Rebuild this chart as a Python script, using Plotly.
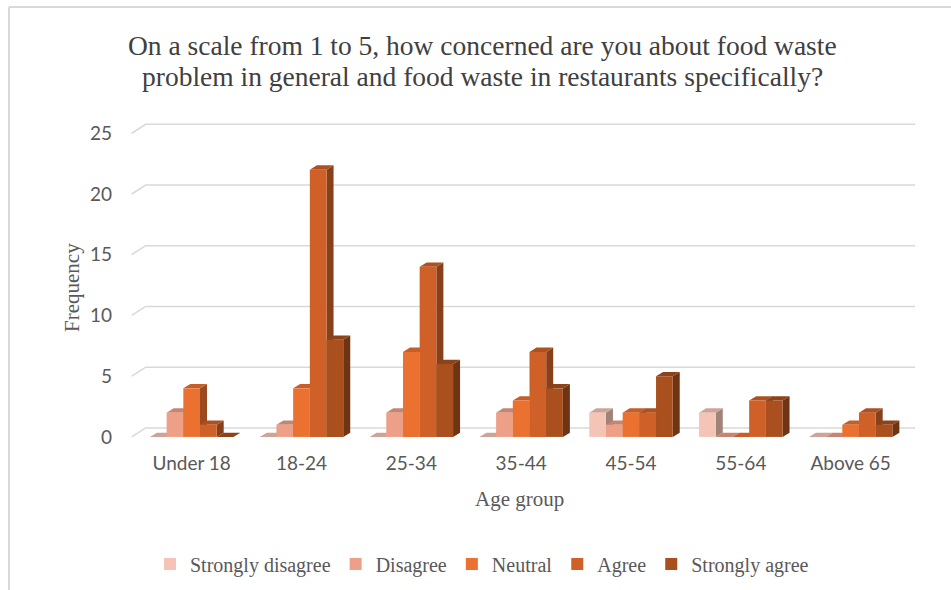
import plotly.graph_objects as go

# ---- data ----
age_groups = ["Under 18", "18-24", "25-34", "35-44", "45-54", "55-64", "Above 65"]
responses = ["Strongly disagree", "Disagree", "Neutral", "Agree", "Strongly agree"]
strongly_disagree = [0, 0, 0, 0, 2, 2, 0]
disagree = [2, 1, 2, 2, 1, 0, 0]
neutral = [4, 4, 7, 3, 2, 0, 1]
agree = [1, 22, 14, 7, 2, 3, 2]
strongly_agree = [0, 8, 6, 4, 5, 3, 1]
y_ticks = [0, 5, 10, 15, 20, 25]
title_lines = ["On a scale from 1 to 5, how concerned are you about food waste",
               "problem in general and food waste in restaurants specifically?"]

series = [strongly_disagree, disagree, neutral, agree, strongly_agree]
colors = ["#F4C5B6", "#EE9F87", "#EB7131", "#CF6128", "#A9501E"]

# ---- geometry of the pseudo-3D columns ----
W, H = 951, 590
M_L, M_R, M_T, M_B = 125, 26, 115, 147
X_RANGE = [-0.607, 6.677]
Y_RANGE = [-0.5, 26.5]
px_per_x = (W - M_L - M_R) / (X_RANGE[1] - X_RANGE[0])
px_per_y = (H - M_T - M_B) / (Y_RANGE[1] - Y_RANGE[0])

BAR_W = 0.152                 # width of one column (category units)
GROUP_START = -2.5 * BAR_W    # offset of the first column in each group
DX = 7 / px_per_x             # depth of a column, horizontal part
DY = 4.3 / px_per_y           # depth of a column, vertical part
WALL_DX = 14 / px_per_x       # depth of the back wall
WALL_DY = 9 / px_per_y


def shade(hex_color, k):
    h = hex_color.lstrip("#")
    r, g, b = (int(h[i:i + 2], 16) for i in (0, 2, 4))
    return "rgb({},{},{})".format(int(r * k), int(g * k), int(b * k))


def poly(pts):
    return "M " + " L ".join("{:.5f},{:.5f}".format(x, y) for x, y in pts) + " Z"


shapes = []

# gridlines on the side wall and back wall
grid_x0 = X_RANGE[0] + 6.7 / px_per_x
for v in y_ticks:
    shapes.append(dict(
        type="path", xref="x", yref="y", layer="below",
        path="M {:.5f},{:.5f} L {:.5f},{:.5f} L {:.5f},{:.5f}".format(
            grid_x0, v, grid_x0 + WALL_DX, v + WALL_DY, 6.587, v + WALL_DY),
        line=dict(color="#D9D9D9", width=1.6),
    ))

# top and side faces of every column, left to right
for i in range(len(age_groups)):
    for j, vals in enumerate(series):
        v = vals[i]
        x0 = i + GROUP_START + j * BAR_W
        x1 = x0 + BAR_W
        side = poly([(x1, 0), (x1, v), (x1 + DX, v + DY), (x1 + DX, DY)])
        top = poly([(x0, v), (x1, v), (x1 + DX, v + DY), (x0 + DX, v + DY)])
        shapes.append(dict(type="path", xref="x", yref="y", layer="below",
                           path=side, fillcolor=shade(colors[j], 0.66),
                           line=dict(width=0)))
        shapes.append(dict(type="path", xref="x", yref="y", layer="below",
                           path=top, fillcolor=shade(colors[j], 0.84),
                           line=dict(width=0)))


def paper_x(px):
    return (px - M_L) / (W - M_L - M_R)


def paper_y(py):
    return (H - M_B - py) / (H - M_T - M_B)


# outer chart frame (top and left edges)
shapes.append(dict(type="line", xref="paper", yref="paper",
                   x0=paper_x(9), x1=paper_x(951), y0=paper_y(7), y1=paper_y(7),
                   line=dict(color="#D9D9D9", width=2)))
shapes.append(dict(type="line", xref="paper", yref="paper",
                   x0=paper_x(9), x1=paper_x(9), y0=paper_y(7), y1=paper_y(592),
                   line=dict(color="#D9D9D9", width=2)))

fig = go.Figure()
for j, (name, vals) in enumerate(zip(responses, series)):
    fig.add_trace(go.Bar(
        x=list(range(len(age_groups))), y=vals, name=name,
        width=BAR_W, offset=GROUP_START + j * BAR_W,
        marker=dict(color=colors[j], line=dict(width=0)),
    ))

serif = "Liberation Serif, Times New Roman, serif"
sans = "Lato, Carlito, Calibri, sans-serif"
text_col = "#595959"

annotations = [
    dict(text=line, xref="paper", yref="paper",
         x=paper_x(482), y=paper_y(py), xanchor="center", yanchor="middle",
         showarrow=False, font=dict(family=serif, size=27.5, color="#404040"))
    for line, py in zip(title_lines, [45, 77])
]
annotations += [
    dict(text="Age group", xref="paper", yref="paper",
         x=paper_x(519), y=paper_y(499), xanchor="center", yanchor="middle",
         showarrow=False, font=dict(family=serif, size=21, color=text_col)),
    dict(text="Frequency", xref="paper", yref="paper",
         x=paper_x(72), y=paper_y(288), xanchor="center", yanchor="middle",
         textangle=-90, showarrow=False,
         font=dict(family=serif, size=21, color=text_col)),
]

fig.update_layout(
    width=W, height=H,
    margin=dict(l=M_L, r=M_R, t=M_T, b=M_B, autoexpand=False),
    paper_bgcolor="white", plot_bgcolor="white",
    barmode="overlay",
    showlegend=True,
    xaxis=dict(
        range=X_RANGE, tickmode="array", tickvals=list(range(len(age_groups))),
        ticktext=age_groups, showgrid=False, zeroline=False, showline=False,
        ticks="", ticklabelstandoff=7,
        tickfont=dict(family=sans, size=19, color=text_col),
    ),
    yaxis=dict(
        range=Y_RANGE, tickmode="array", tickvals=y_ticks,
        showgrid=False, zeroline=False, showline=False, ticks="",
        ticklabelstandoff=12,
        tickfont=dict(family=sans, size=19, color=text_col),
    ),
    legend=dict(
        orientation="h", x=paper_x(482), xanchor="center",
        y=paper_y(564), yanchor="middle",
        font=dict(family=serif, size=20, color=text_col),
        itemwidth=30, traceorder="normal",
    ),
    shapes=shapes,
    annotations=annotations,
)

fig.write_html("out.html")
